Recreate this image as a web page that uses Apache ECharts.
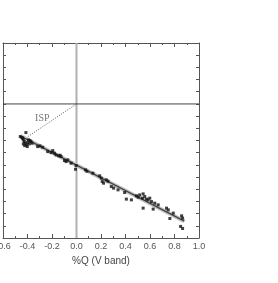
<!DOCTYPE html>
<html><head><meta charset="utf-8">
<script src="https://cdn.jsdelivr.net/npm/echarts@6/dist/echarts.min.js"></script>
<style>html,body{margin:0;padding:0;background:#fff}#c{width:278px;height:283px}</style>
</head><body><div id="c"></div>
<script>
const xTicks = [-0.6,-0.4,-0.2,0.0,0.2,0.4,0.6,0.8,1.0];
const obsQ = [-0.459,-0.445,-0.434,-0.426,-0.413,-0.418,-0.407,-0.399,-0.391,-0.385,-0.372,-0.434,-0.423,-0.402,-0.440,-0.380,-0.363,
  -0.317,-0.298,-0.276,-0.235,-0.208,-0.194,-0.180,-0.167,-0.145,-0.134,-0.126,-0.098,-0.085,-0.071,-0.044,-0.008,-0.003,
  0.074,0.085,0.134,0.189,0.202,0.210,0.221,0.243,0.257,0.284,0.303,0.339,0.393,0.407,0.448,0.489,0.503,0.516,0.538,0.544,
  0.557,0.571,0.585,0.598,0.544,0.612,0.626,0.639,0.667,0.735,0.749,0.762,0.790,0.858,0.866,0.850,0.866];
const obsU = [-0.268,-0.276,-0.295,-0.309,-0.235,-0.322,-0.336,-0.317,-0.295,-0.328,-0.309,-0.328,-0.342,-0.350,-0.281,-0.301,-0.322,
  -0.350,-0.344,-0.355,-0.391,-0.399,-0.383,-0.404,-0.418,-0.426,-0.421,-0.432,-0.464,-0.473,-0.459,-0.486,-0.536,-0.505,
  -0.541,-0.552,-0.568,-0.590,-0.609,-0.637,-0.650,-0.623,-0.634,-0.678,-0.691,-0.705,-0.727,-0.781,-0.787,-0.754,-0.765,-0.746,-0.773,-0.738,
  -0.760,-0.781,-0.787,-0.773,-0.855,-0.801,-0.863,-0.814,-0.828,-0.855,-0.869,-0.940,-0.896,-0.918,-0.937,-1.005,-1.022];
const fitQ = [-0.46, 0.88];
const fitU = [-0.262, -0.962];
const ispQ = [0.0, -0.40];
const ispU = [0.0, -0.27];
const ispLabel = 'ISP';
const ispLabelPos = [-0.279, -0.115];
const xTitle = '%Q (V band)';

const zip = (a,b) => a.map((v,i)=>[v,b[i]]);
const frame = '#555';
const chart = echarts.init(document.getElementById('c'), null, {renderer:'canvas'});
const xCommon = {type:'value', min:-0.6, max:1.0, interval:0.2,
  axisLine:{show:true, onZero:false, lineStyle:{color:frame, width:1}},
  axisTick:{show:true, inside:true, length:4, lineStyle:{color:frame}},
  minorTick:{show:true, splitNumber:2, length:2, lineStyle:{color:frame}},
  splitLine:{show:false}};
const yCommon = {type:'value', min:-1.1, max:0.5, interval:0.1,
  axisLine:{show:true, onZero:false, lineStyle:{color:frame, width:1}},
  axisTick:{show:true, inside:true, length:3, lineStyle:{color:frame}},
  axisLabel:{show:false}, splitLine:{show:false}};
chart.setOption({
  animation:false,
  grid:{left:3, right:79, top:43, bottom:45, containLabel:false, outerBoundsMode:'none'},
  xAxis:[
    Object.assign({}, xCommon, {position:'bottom',
      name:xTitle, nameLocation:'middle', nameGap:17,
      nameTextStyle:{fontFamily:'Liberation Sans', fontSize:10, color:'#444'},
      axisLabel:{show:true, margin:4, fontFamily:'Liberation Sans', fontSize:9, color:'#555',
        formatter:v=>v.toFixed(1)}}),
    Object.assign({}, xCommon, {position:'top', axisLabel:{show:false}})
  ],
  yAxis:[
    Object.assign({}, yCommon, {position:'left'}),
    Object.assign({}, yCommon, {position:'right'})
  ],
  series:[
    {type:'line', data:[[0,-1.1],[0,0.5]], symbol:'none', silent:true,
      lineStyle:{color:'#b0b0b0', width:2}, z:1},
    {type:'line', data:[[-0.6,0],[1.0,0]], symbol:'none', silent:true,
      lineStyle:{color:'#444', width:1}, z:1},
    {type:'line', data:zip(fitQ,fitU), symbol:'none', silent:true,
      lineStyle:{color:'#c4c4c4', width:4}, z:2},
    {type:'line', data:zip(fitQ,fitU), symbol:'none', silent:true,
      lineStyle:{color:'#444', width:1.3}, z:3},
    {type:'line', data:zip(ispQ,ispU), symbol:'none', silent:true,
      lineStyle:{color:'#555', width:1, type:[1,1.5]}, z:2},
    {type:'scatter', data:zip(obsQ,obsU), symbol:'rect', symbolSize:3,
      itemStyle:{color:'#111'}, z:4},
    {type:'scatter', data:[ispLabelPos], symbolSize:0,
      label:{show:true, position:'inside', formatter:ispLabel,
        fontFamily:'Liberation Serif', fontSize:10, color:'#555'}}
  ]
});
</script></body></html>
